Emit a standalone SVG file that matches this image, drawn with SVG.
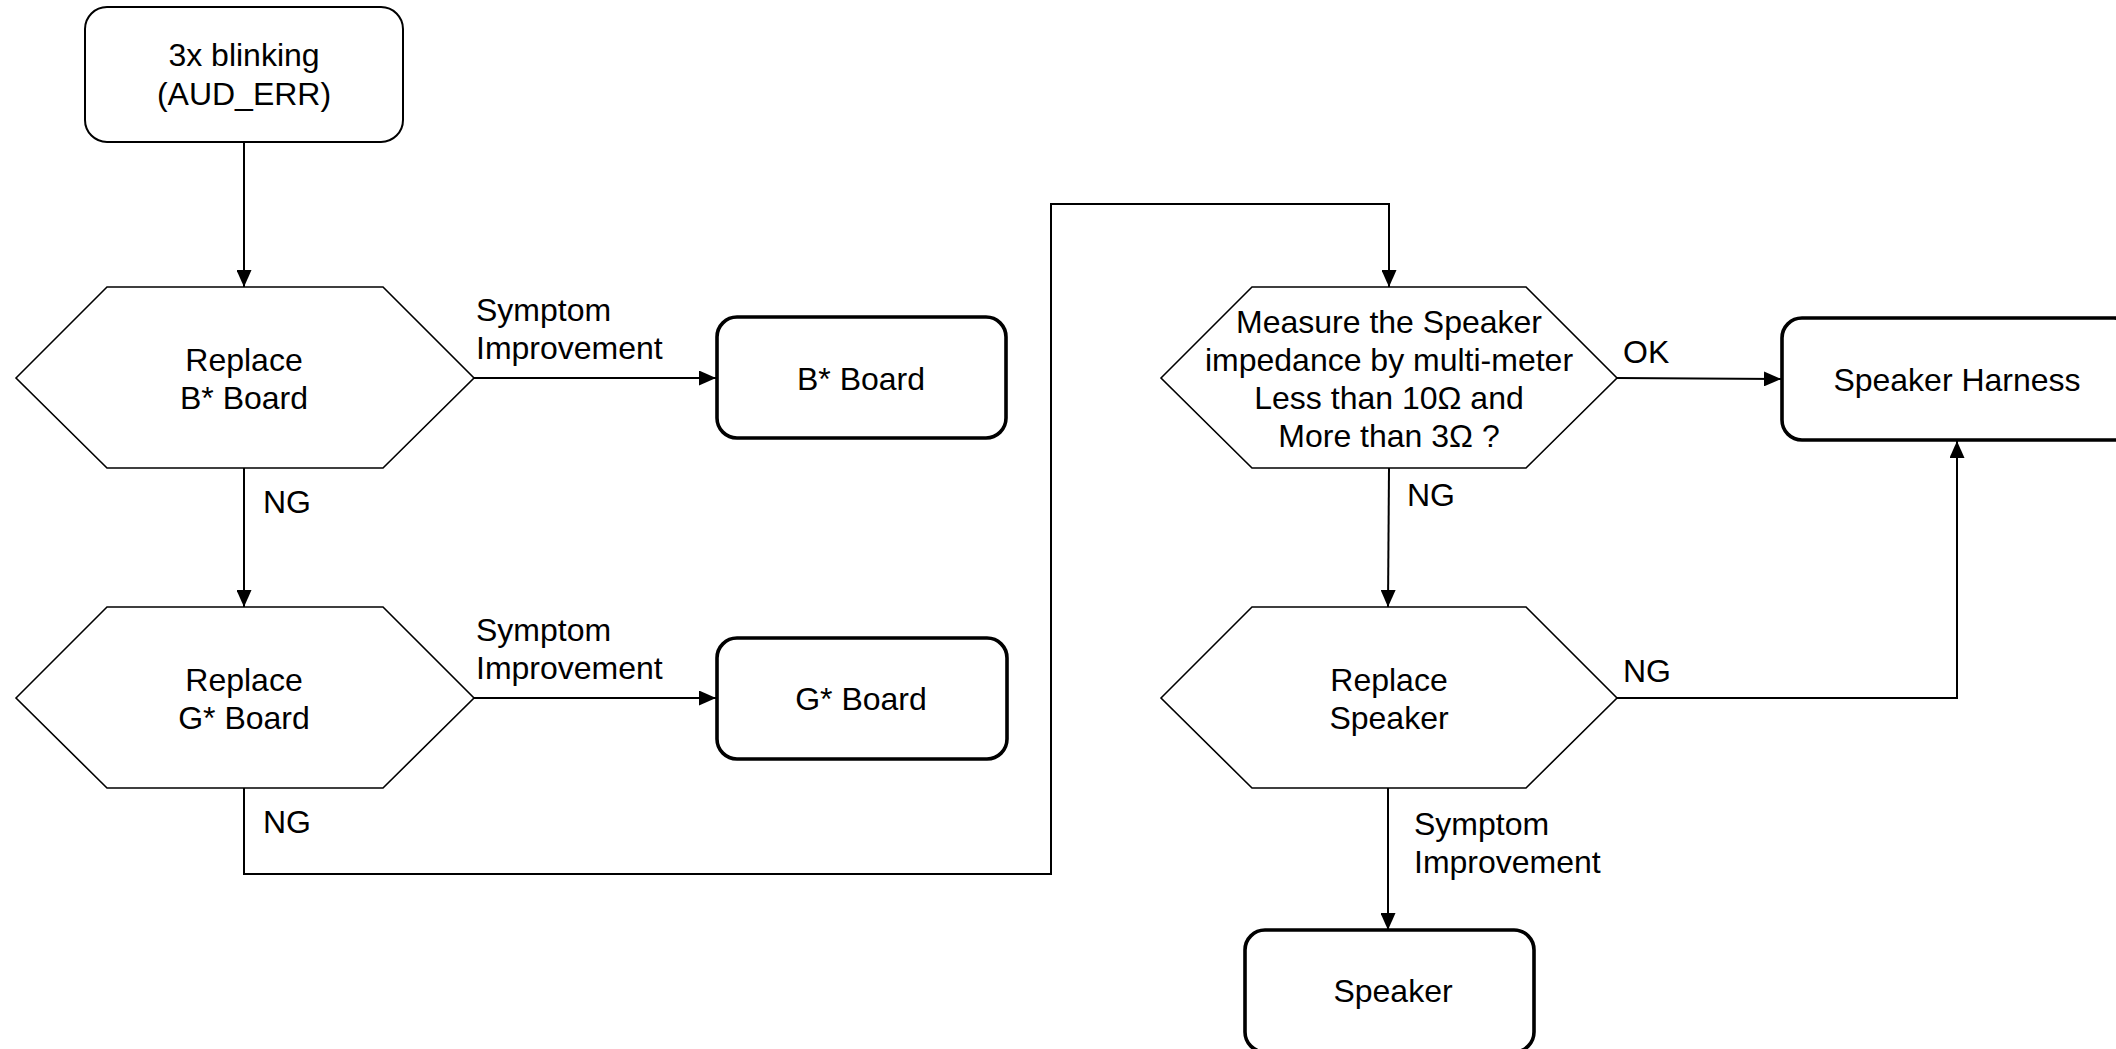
<svg xmlns="http://www.w3.org/2000/svg" width="2116" height="1049" viewBox="0 0 2116 1049">
<style>
text{font-family:"Liberation Sans",Arial,sans-serif;font-size:32px;fill:#000;dominant-baseline:central}
.c{text-anchor:middle}
.hex{fill:#fff;stroke:#000;stroke-width:1.6}
.term{fill:#fff;stroke:#000;stroke-width:2}
.end{fill:#fff;stroke:#000;stroke-width:3.6}
.edge{fill:none;stroke:#000;stroke-width:2}
</style>
<defs>
<marker id="arr" markerUnits="userSpaceOnUse" markerWidth="17" markerHeight="15" refX="17" refY="7.5" orient="auto">
<path d="M0,0 L17,7.5 L0,15 Z" fill="#000"/>
</marker>
</defs>
<rect width="2116" height="1049" fill="#fff"/>
<g id="connectors">
<path class="edge" d="M244,142 V287" marker-end="url(#arr)"/>
<path class="edge" d="M474,378 H716" marker-end="url(#arr)"/>
<path class="edge" d="M244,468 V607" marker-end="url(#arr)"/>
<path class="edge" d="M474,698 H716" marker-end="url(#arr)"/>
<path class="edge" d="M244,788 V874 H1051 V204 H1389 V287" marker-end="url(#arr)"/>
<path class="edge" d="M1617,378 L1781,379" marker-end="url(#arr)"/>
<path class="edge" d="M1389,468 L1388,607" marker-end="url(#arr)"/>
<path class="edge" d="M1617,698 H1957 V441" marker-end="url(#arr)"/>
<path class="edge" d="M1388,788 V930" marker-end="url(#arr)"/>
<text x="476" y="310">Symptom</text>
<text x="476" y="348">Improvement</text>
<text x="263" y="502">NG</text>
<text x="476" y="630">Symptom</text>
<text x="476" y="668">Improvement</text>
<text x="263" y="822">NG</text>
<text x="1623" y="352">OK</text>
<text x="1407" y="495">NG</text>
<text x="1623" y="671">NG</text>
<text x="1414" y="824">Symptom</text>
<text x="1414" y="862">Improvement</text>
</g>
<g id="start">
<rect class="term" x="85" y="7" width="318" height="135" rx="22"/>
<text class="c" x="244" y="55">3x blinking</text>
<text class="c" x="244" y="94">(AUD_ERR)</text>
</g>
<g id="replaceB">
<polygon class="hex" points="16,378 107,287 383,287 474,378 383,468 107,468"/>
<text class="c" x="244" y="360">Replace</text>
<text class="c" x="244" y="398">B* Board</text>
</g>
<g id="bBoard">
<rect class="end" x="717" y="317" width="289" height="121" rx="20"/>
<text class="c" x="861" y="379">B* Board</text>
</g>
<g id="replaceG">
<polygon class="hex" points="16,698 107,607 383,607 474,698 383,788 107,788"/>
<text class="c" x="244" y="680">Replace</text>
<text class="c" x="244" y="718">G* Board</text>
</g>
<g id="gBoard">
<rect class="end" x="717" y="638" width="290" height="121" rx="20"/>
<text class="c" x="861" y="699">G* Board</text>
</g>
<g id="measure">
<polygon class="hex" points="1161,378 1252,287 1526,287 1617,378 1526,468 1252,468"/>
<text class="c" x="1389" y="322">Measure the Speaker</text>
<text class="c" x="1389" y="360">impedance by multi-meter</text>
<text class="c" x="1389" y="398">Less than 10Ω and</text>
<text class="c" x="1389" y="436">More than 3Ω ?</text>
</g>
<g id="harness">
<rect class="end" x="1782" y="318" width="352" height="122" rx="20"/>
<text class="c" x="1957" y="380">Speaker Harness</text>
</g>
<g id="replaceSpeaker">
<polygon class="hex" points="1161,698 1252,607 1526,607 1617,698 1526,788 1252,788"/>
<text class="c" x="1389" y="680">Replace</text>
<text class="c" x="1389" y="718">Speaker</text>
</g>
<g id="speaker">
<rect class="end" x="1245" y="930" width="289" height="122" rx="20"/>
<text class="c" x="1393" y="991">Speaker</text>
</g>
</svg>
